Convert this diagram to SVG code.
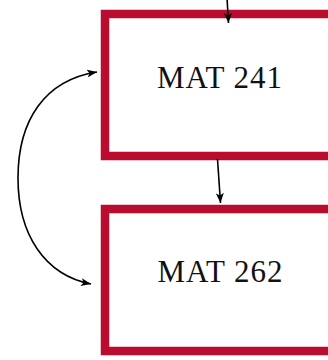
<svg xmlns="http://www.w3.org/2000/svg" width="328" height="360" viewBox="0 0 328 360">
<defs>
<style>
.box{fill:#ffffff;stroke:#ba0c2f;stroke-width:8.5}
.lbl{font-family:"Liberation Serif","DejaVu Serif",serif;font-size:31px;letter-spacing:1px;fill:#111;text-anchor:middle}
.edge{fill:none;stroke:#000;stroke-width:1.6}
</style>
<marker id="ah" viewBox="0 0 10 8" refX="10" refY="4" markerWidth="10" markerHeight="8" markerUnits="userSpaceOnUse" orient="auto-start-reverse">
<path d="M0,0 L10,4 L0,8 L2.5,4 Z" fill="#000"/>
</marker>
</defs>
<rect width="328" height="360" fill="#fff"/>
<g id="n1">
<rect class="box" x="105" y="14" width="240" height="142"/>
<text class="lbl" x="220" y="88">MAT 241</text>
</g>
<g id="n2">
<rect class="box" x="105" y="209" width="240" height="142"/>
<text class="lbl" x="220.5" y="282">MAT 262</text>
</g>
<g id="edges">
<path class="edge" d="M227,-2 L228.5,23" marker-end="url(#ah)"/>
<path class="edge" d="M217.5,159 L220.5,203" marker-end="url(#ah)"/>
<path class="edge" d="M97,72 C45,80 18,120 18,178 C18,235 45,275 91,284" marker-start="url(#ah)" marker-end="url(#ah)"/>
</g>
</svg>
